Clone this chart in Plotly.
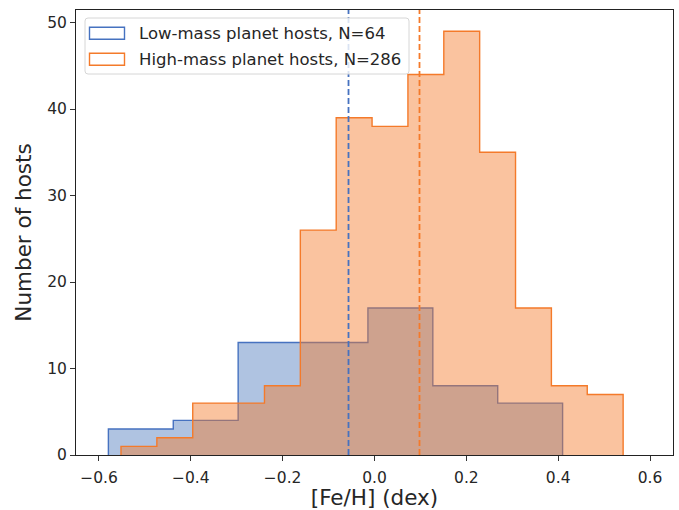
import plotly.graph_objects as go

# ---- data ----
low_edges = [-0.5795, -0.4382, -0.2969, -0.1556, -0.0143, 0.1270, 0.2683, 0.4096]
low_counts = [3, 4, 13, 13, 17, 8, 6]
high_edges = [-0.5520, -0.4739, -0.3958, -0.3177, -0.2396, -0.1615, -0.0834, -0.0053,
              0.0728, 0.1509, 0.2290, 0.3071, 0.3852, 0.4633, 0.5414]
high_counts = [1, 2, 6, 6, 8, 26, 39, 38, 44, 49, 35, 17, 8, 7]
low_median = -0.0566
high_median = 0.098
low_label = "Low-mass planet hosts, N=64"
high_label = "High-mass planet hosts, N=286"
x_ticks = [-0.6, -0.4, -0.2, 0.0, 0.2, 0.4, 0.6]
y_ticks = [0, 10, 20, 30, 40, 50]

BLUE = "#4672c0"
ORANGE = "#f47a2a"
BLUE_FILL = "rgba(70,115,185,0.43)"
ORANGE_FILL = "rgba(244,122,42,0.45)"
FONT = "DejaVu Sans"
TXT = "#262626"

W, H = 679, 510
ML, MR, MT, MB = 76, 6, 10, 55
PW, PH = W - ML - MR, H - MT - MB


def px(x):
    return (x - ML) / PW


def py(y):
    return 1 - (y - MT) / PH


def step(edges, counts):
    xs = [edges[0]] + list(edges)
    ys = [0] + list(counts) + [0]
    return xs, ys


fig = go.Figure()
for edges, counts, col, fill in [
    (low_edges, low_counts, BLUE, BLUE_FILL),
    (high_edges, high_counts, ORANGE, ORANGE_FILL),
]:
    xs, ys = step(edges, counts)
    fig.add_trace(go.Scatter(x=xs, y=ys, mode="lines", line=dict(color=col, width=1.4, shape="hv"),
                             fill="tozeroy", fillcolor=fill, showlegend=False, hoverinfo="skip"))

for xv, col in [(low_median, BLUE), (high_median, ORANGE)]:
    fig.add_shape(type="line", x0=xv, x1=xv, y0=0, y1=1, xref="x", yref="paper",
                  line=dict(color=col, width=1.8, dash="6px,3px"), layer="above")

# ---- legend (box, outline patches, labels) ----
bx0, bx1, by0, by1, r = 85, 409, 18, 74, 3
path = (f"M{px(bx0 + r)},{py(by0)} L{px(bx1 - r)},{py(by0)} Q{px(bx1)},{py(by0)} {px(bx1)},{py(by0 + r)} "
        f"L{px(bx1)},{py(by1 - r)} Q{px(bx1)},{py(by1)} {px(bx1 - r)},{py(by1)} "
        f"L{px(bx0 + r)},{py(by1)} Q{px(bx0)},{py(by1)} {px(bx0)},{py(by1 - r)} "
        f"L{px(bx0)},{py(by0 + r)} Q{px(bx0)},{py(by0)} {px(bx0 + r)},{py(by0)} Z")
fig.add_shape(type="path", path=path, xref="paper", yref="paper",
              fillcolor="rgba(255,255,255,0.8)", line=dict(color="#d6d6d6", width=1), layer="above")
for (cy, col, label) in [(33.3, BLUE, low_label), (59.2, ORANGE, high_label)]:
    fig.add_shape(type="rect", xref="paper", yref="paper",
                  x0=px(89.5), x1=px(124.5), y0=py(cy - 6), y1=py(cy + 6),
                  line=dict(color=col, width=1.4), fillcolor="rgba(255,255,255,0)", layer="above")
    fig.add_annotation(x=px(136.5), y=py(cy), xref="paper", yref="paper", text=label,
                       showarrow=False, xanchor="left", yanchor="middle",
                       font=dict(family=FONT, size=16.5, color=TXT))

fig.update_layout(
    width=W, height=H,
    margin=dict(l=ML, r=MR, t=MT, b=MB),
    plot_bgcolor="white", paper_bgcolor="white",
    font=dict(family=FONT, color=TXT, size=15.5),
    showlegend=False,
    xaxis=dict(range=[-0.65, 0.65], tickvals=x_ticks, tickformat=".1f",
               showgrid=False, zeroline=False, showline=True, linecolor="#222", linewidth=1,
               mirror=True, ticks="outside", ticklen=5, tickcolor="#333", ticklabelstandoff=3,
               title=dict(text="[Fe/H] (dex)", font=dict(size=21.5), standoff=3)),
    yaxis=dict(range=[0, 51.45], tickvals=y_ticks,
               showgrid=False, zeroline=False, showline=True, linecolor="#222", linewidth=1,
               mirror=True, ticks="outside", ticklen=5, tickcolor="#333",
               title=dict(text="Number of hosts", font=dict(size=21.5), standoff=9)),
)

fig.write_html("out.html")
